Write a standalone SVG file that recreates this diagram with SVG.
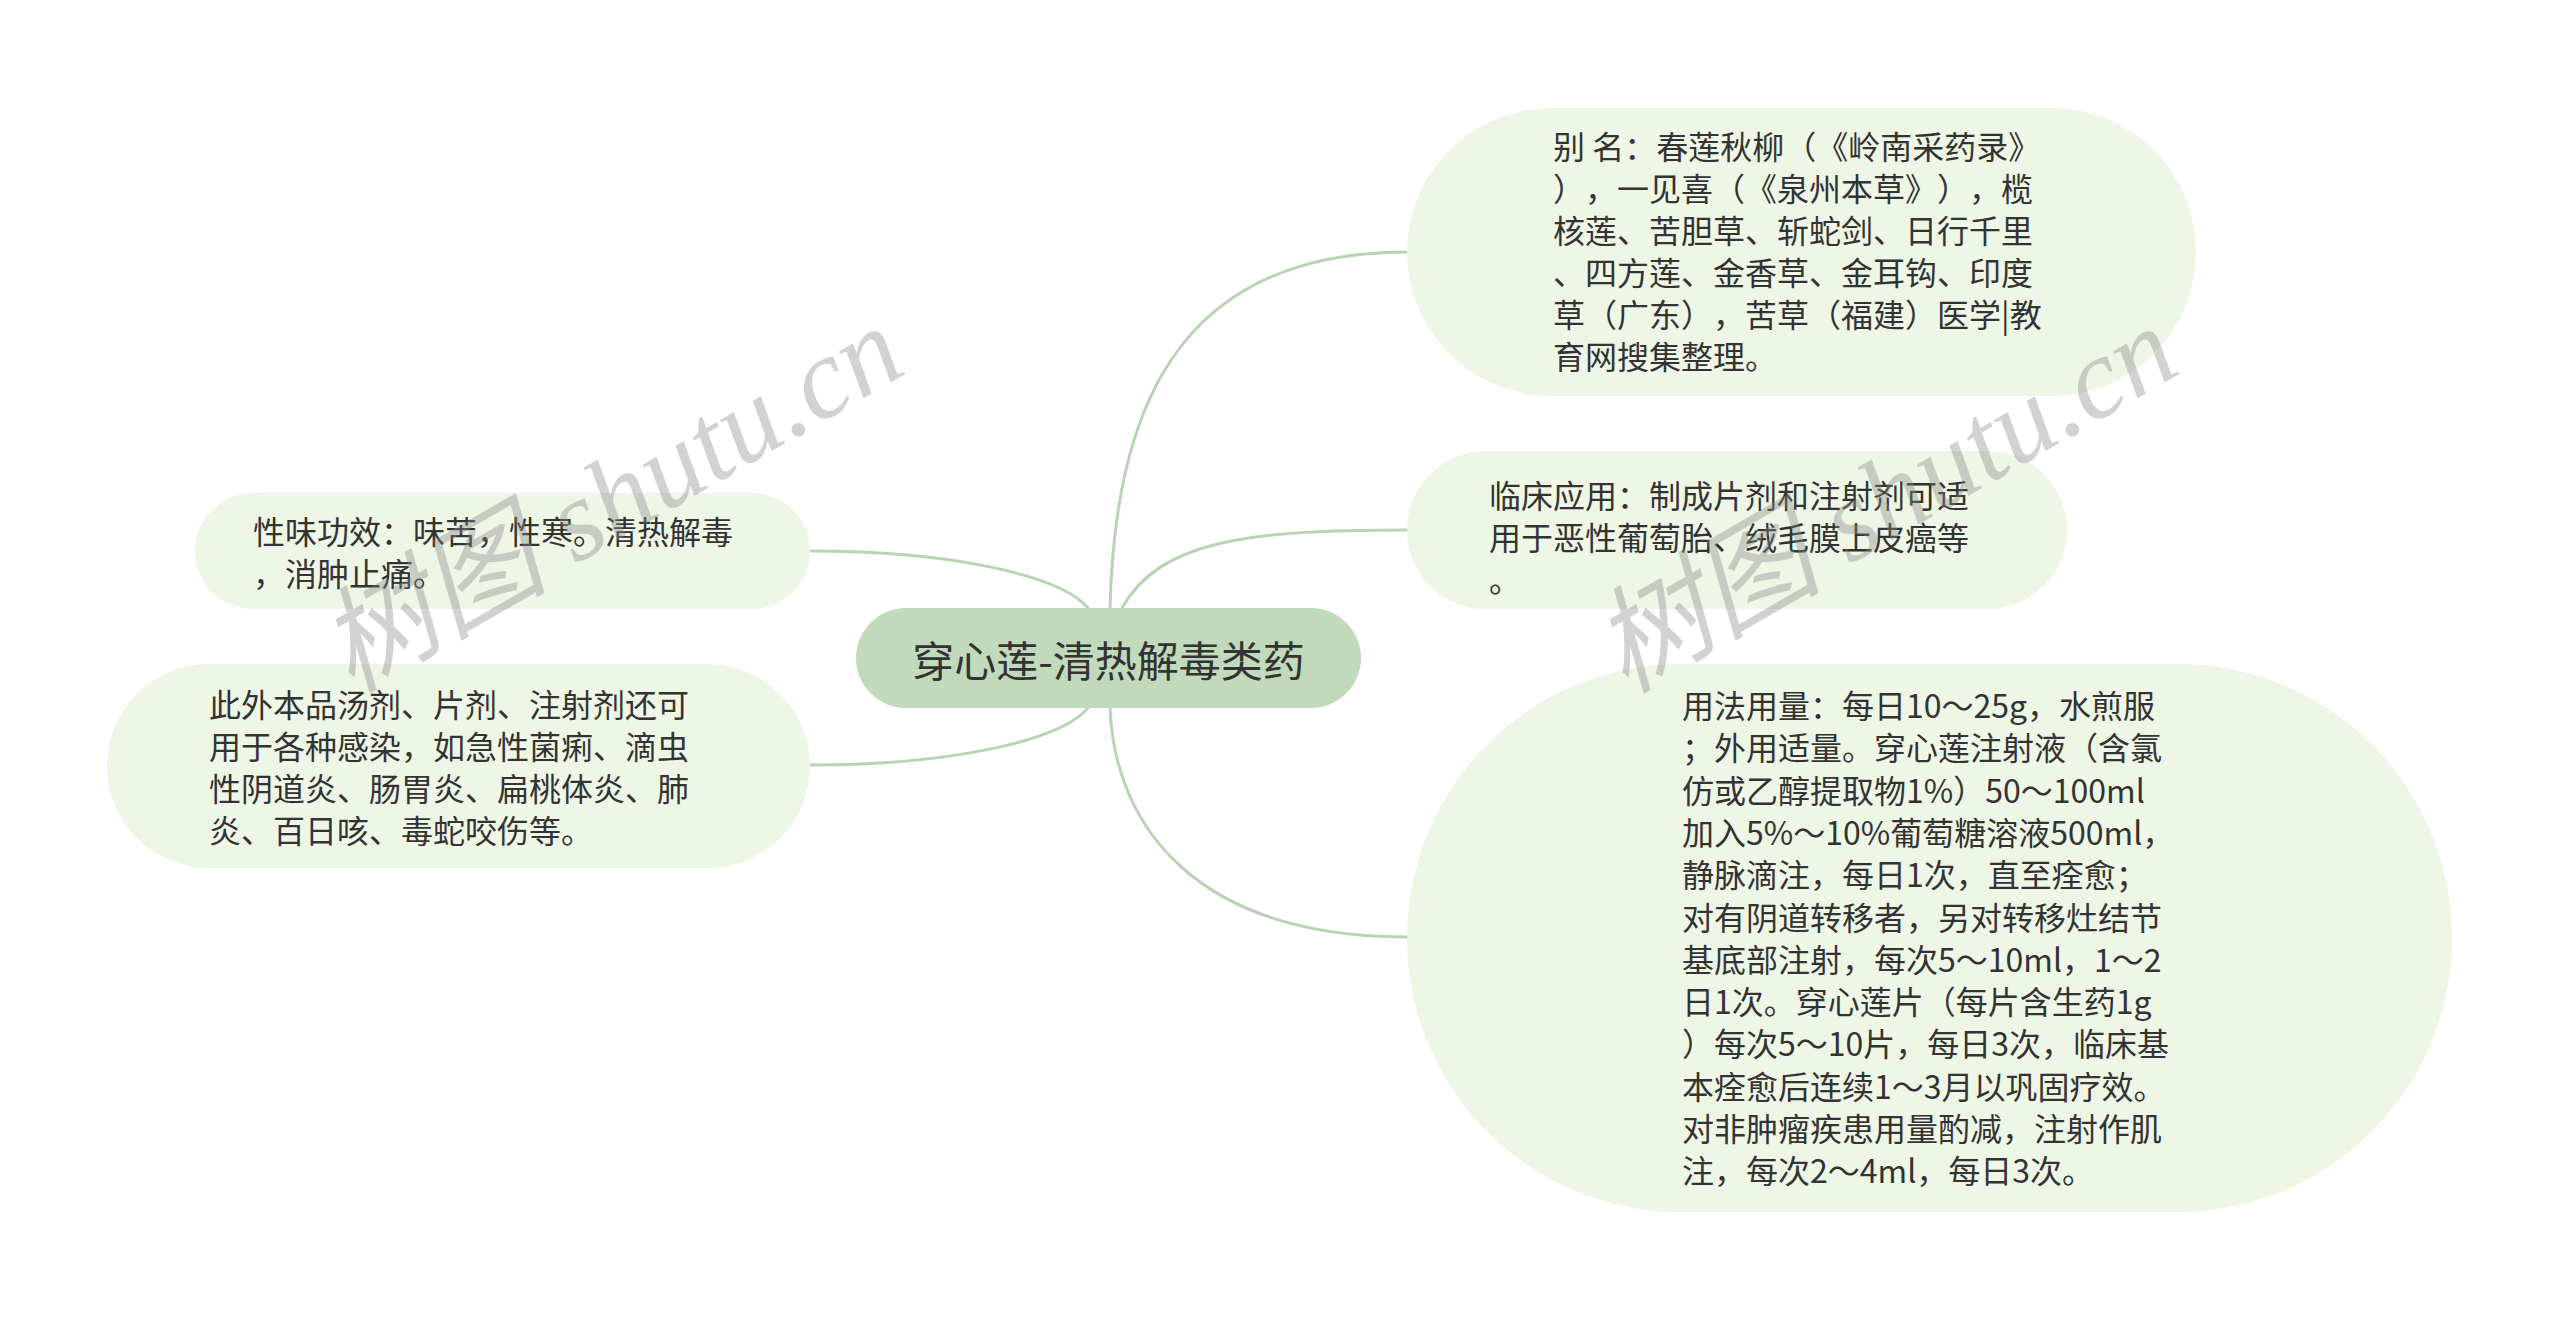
<svg xmlns="http://www.w3.org/2000/svg" width="2560" height="1317" viewBox="0 0 2560 1317">
<style>
.bg{fill:#ffffff}
.leaf{fill:#eef6e6}
.root{fill:#c0dabb}
.t{font-family:"Noto Sans CJK SC","Microsoft YaHei",sans-serif;font-size:32px;fill:#333333;dominant-baseline:central;font-kerning:none;text-spacing-trim:space-all;font-feature-settings:"kern" 0,"palt" 0,"halt" 0,"chws" 0}
.rt{font-family:"Noto Sans CJK SC","Microsoft YaHei",sans-serif;font-size:42px;fill:#333333;dominant-baseline:central;text-anchor:middle}
.c{fill:none;stroke:#b8d4b2;stroke-width:3;stroke-linecap:round}
.wm{font-family:"Liberation Serif","Noto Sans CJK SC",serif;font-style:italic;font-size:115px;fill:#8a8a8a;fill-opacity:0.38}
</style>
<rect class="bg" x="0" y="0" width="2560" height="1317"/>
<g id="connectors">
<path class="c" d="M 1110 608 C 1115 420, 1170 252, 1407 252"/>
<path class="c" d="M 1122 608 C 1160 540, 1250 530, 1407 530"/>
<path class="c" d="M 1110 708 C 1115 830, 1200 937, 1407 937"/>
<path class="c" d="M 1088 608 C 1060 575, 950 551, 810 551"/>
<path class="c" d="M 1088 708 C 1060 741, 950 765, 810 765"/>
</g>
<g id="root">
<rect class="root" x="856" y="608" width="505" height="100" rx="50" ry="50"/>
<text class="rt" x="1108.5" y="658">穿心莲-清热解毒类药</text>
</g>
<g id="node-alias">
<rect class="leaf" x="1407" y="108" width="789" height="288" rx="144" ry="144"/>
<text class="t" x="1553" y="145">别 名：春莲秋柳（《岭南采药录》</text>
<text class="t" x="1553" y="187">），一见喜（《泉州本草》），榄</text>
<text class="t" x="1553" y="229">核莲、苦胆草、斩蛇剑、日行千里</text>
<text class="t" x="1553" y="271">、四方莲、金香草、金耳钩、印度</text>
<text class="t" x="1553" y="313">草（广东），苦草（福建）医学|教</text>
<text class="t" x="1553" y="355">育网搜集整理。</text>
</g>
<g id="node-clinical">
<rect class="leaf" x="1407" y="451" width="660" height="158" rx="79" ry="79"/>
<text class="t" x="1489" y="494">临床应用：制成片剂和注射剂可适</text>
<text class="t" x="1489" y="536">用于恶性葡萄胎、绒毛膜上皮癌等</text>
<text class="t" x="1489" y="578">。</text>
</g>
<g id="node-dosage">
<rect class="leaf" x="1407" y="664" width="1045" height="548" rx="274" ry="274"/>
<text class="t" x="1682" y="704">用法用量：每日10～25g，水煎服</text>
<text class="t" x="1682" y="746.3">；外用适量。穿心莲注射液（含氯</text>
<text class="t" x="1682" y="788.6">仿或乙醇提取物1%）50～100ml</text>
<text class="t" x="1682" y="830.9">加入5%～10%葡萄糖溶液500ml，</text>
<text class="t" x="1682" y="873.2">静脉滴注，每日1次，直至痊愈；</text>
<text class="t" x="1682" y="915.5">对有阴道转移者，另对转移灶结节</text>
<text class="t" x="1682" y="957.8">基底部注射，每次5～10ml，1～2</text>
<text class="t" x="1682" y="1000.1">日1次。穿心莲片（每片含生药1g</text>
<text class="t" x="1682" y="1042.4">）每次5～10片，每日3次，临床基</text>
<text class="t" x="1682" y="1084.7">本痊愈后连续1～3月以巩固疗效。</text>
<text class="t" x="1682" y="1127">对非肿瘤疾患用量酌减，注射作肌</text>
<text class="t" x="1682" y="1169.3">注，每次2～4ml，每日3次。</text>
</g>
<g id="node-nature">
<rect class="leaf" x="195" y="493" width="615" height="116" rx="58" ry="58"/>
<text class="t" x="253" y="530">性味功效：味苦，性寒。清热解毒</text>
<text class="t" x="253" y="572">，消肿止痛。</text>
</g>
<g id="node-other">
<rect class="leaf" x="107" y="664" width="703" height="204" rx="102" ry="102"/>
<text class="t" x="209" y="703">此外本品汤剂、片剂、注射剂还可</text>
<text class="t" x="209" y="745">用于各种感染，如急性菌痢、滴虫</text>
<text class="t" x="209" y="787">性阴道炎、肠胃炎、扁桃体炎、肺</text>
<text class="t" x="209" y="829">炎、百日咳、毒蛇咬伤等。</text>
</g>
<g id="watermark">
<text class="wm" x="351" y="694" transform="rotate(-30 351 694)">树图 shutu.cn</text>
<text class="wm" x="1625" y="694" transform="rotate(-30 1625 694)">树图 shutu.cn</text>
</g>
</svg>
